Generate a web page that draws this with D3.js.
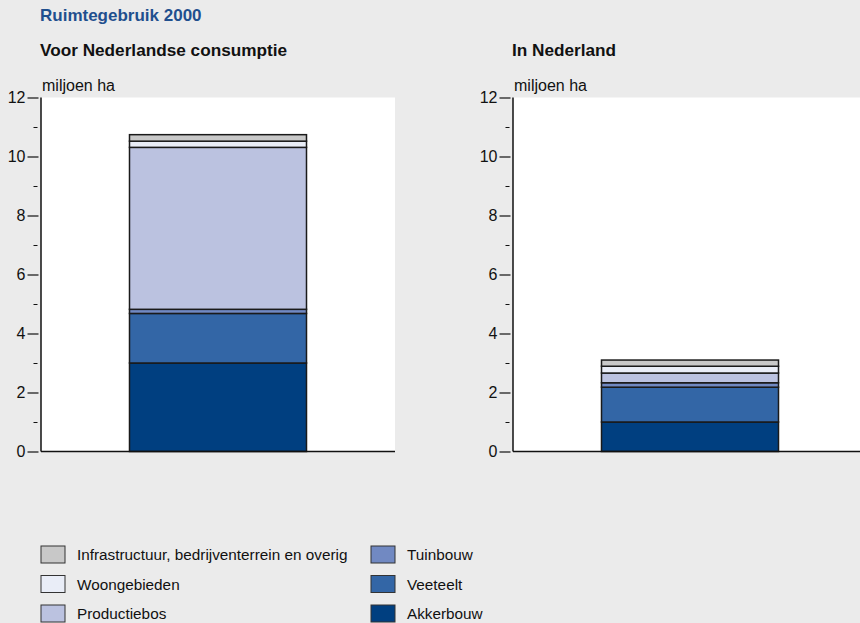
<!DOCTYPE html>
<html>
<head>
<meta charset="utf-8">
<script src="https://cdn.jsdelivr.net/npm/d3@7"></script>
<style>
  body { margin: 0; background: #ebebeb; }
  svg { display: block; }
  text { font-family: "Liberation Sans", Arial, sans-serif; fill: #111; }
</style>
</head>
<body>
<svg width="860" height="623"></svg>
<script>
// data (miljoen ha, jaar 2000)
var panels = ["Voor Nederlandse consumptie", "In Nederland"];
var akkerbouw    = [3.00, 1.00];
var veeteelt     = [1.68, 1.18];
var tuinbouw     = [0.14, 0.15];
var productiebos = [5.49, 0.33];
var woongebieden = [0.21, 0.23];
var infra        = [0.22, 0.21];
var seriesNames = ["Akkerbouw", "Veeteelt", "Tuinbouw", "Productiebos", "Woongebieden",
                   "Infrastructuur, bedrijventerrein en overig"];
var seriesColors = ["#003f80", "#3366a6", "#7189c2", "#bbc2e0", "#e9edf7", "#c8c8c8"];
var majorTicks = [0, 2, 4, 6, 8, 10, 12];
var minorTicks = [1, 3, 5, 7, 9, 11];

var svg = d3.select("svg");

var rows = panels.map(function(p, i) {
  return { panel: p, Akkerbouw: akkerbouw[i], Veeteelt: veeteelt[i], Tuinbouw: tuinbouw[i],
           Productiebos: productiebos[i], Woongebieden: woongebieden[i],
           "Infrastructuur, bedrijventerrein en overig": infra[i] };
});
var stacked = d3.stack().keys(seriesNames)(rows);
var color = d3.scaleOrdinal().domain(seriesNames).range(seriesColors);

var y = d3.scaleLinear().domain([0, 12]).range([451.5, 97.5]);
var plotW = 354;
var lefts = [41, 513];

svg.append("text")
    .attr("x", 40).attr("y", 21)
    .style("font-size", "17px").style("font-weight", "bold").style("fill", "#1f4f8e")
    .text("Ruimtegebruik 2000");

panels.forEach(function(p, pi) {
  var x0 = lefts[pi];
  var g = svg.append("g").attr("transform", "translate(" + x0 + ",0)");
  var x = d3.scaleBand().domain([p]).range([0, plotW]).paddingInner(0).paddingOuter(0.5);

  svg.append("text")
      .attr("x", x0 - 1).attr("y", 56)
      .style("font-size", "17.2px").style("font-weight", "bold")
      .text(p);

  g.append("rect")
      .attr("x", 0).attr("y", y(12)).attr("width", plotW).attr("height", y(0) - y(12))
      .attr("fill", "#fff");

  g.append("text")
      .attr("x", 1).attr("y", 91)
      .style("font-size", "16px")
      .text("miljoen ha");

  g.selectAll("rect.seg")
    .data(stacked)
    .enter().append("rect")
      .attr("class", "seg")
      .attr("x", x(p))
      .attr("y", function(d) { return y(d[pi][1]); })
      .attr("width", x.bandwidth())
      .attr("height", function(d) { return y(d[pi][0]) - y(d[pi][1]); })
      .attr("fill", function(d) { return color(d.key); })
      .attr("stroke", "#1a1a1a")
      .attr("stroke-width", 1.5);

  // axes
  var major = g.append("g")
      .attr("transform", "translate(-2.5,0)")
      .call(d3.axisLeft(y).tickValues(majorTicks).tickSize(11).tickPadding(2));
  major.select(".domain").remove();
  major.selectAll("text").style("font-size", "16px").style("font-family", null).attr("fill", "#111");
  major.selectAll("line").attr("stroke", "#111").attr("stroke-width", 1.2);

  var minor = g.append("g")
      .attr("transform", "translate(-3.5,0)")
      .call(d3.axisLeft(y).tickValues(minorTicks).tickSize(4).tickFormat(""));
  minor.select(".domain").remove();
  minor.selectAll("line").attr("stroke", "#111");

  g.append("line")
      .attr("x1", 0).attr("x2", 0).attr("y1", y(12)).attr("y2", y(0))
      .attr("stroke", "#111").attr("stroke-width", 1.5);
  g.append("line")
      .attr("x1", 0).attr("x2", plotW).attr("y1", y(0)).attr("y2", y(0))
      .attr("stroke", "#111").attr("stroke-width", 1.5);
});

// legend
var legendOrder = ["Infrastructuur, bedrijventerrein en overig", "Woongebieden", "Productiebos",
                   "Tuinbouw", "Veeteelt", "Akkerbouw"];
var legend = svg.append("g").selectAll("g")
  .data(legendOrder)
  .enter().append("g")
    .attr("transform", function(d, i) {
      return "translate(" + (i < 3 ? 41 : 371) + "," + (546 + (i % 3) * 29.5) + ")";
    });
legend.append("rect")
    .attr("width", 24).attr("height", 17)
    .attr("fill", function(d) { return color(d); })
    .attr("stroke", "#333").attr("stroke-width", 1);
legend.append("text")
    .attr("x", 36).attr("y", 14)
    .style("font-size", "15.3px")
    .text(function(d) { return d; });
</script>
</body>
</html>
